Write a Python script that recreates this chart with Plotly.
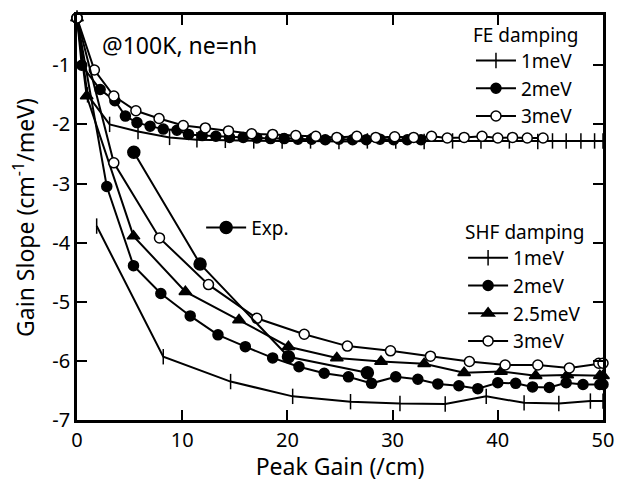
import plotly.graph_objects as go

# ---- data ----
fe1_x = [0, 1.0, 3.1, 5.8, 8.8, 11.4, 14.1, 16.8, 19.5, 22.2, 24.9, 27.6, 30.3, 33.0, 35.7, 38.4, 41.1, 43.8, 45.2, 46.5, 47.9, 49.2, 50]
fe1_y = [-0.2, -1.5, -2.0, -2.12, -2.22, -2.26, -2.27, -2.28, -2.28, -2.28, -2.29, -2.28, -2.28, -2.29, -2.28, -2.28, -2.28, -2.29, -2.28, -2.28, -2.28, -2.28, -2.28]

fe2_x = [0, 0.45, 2.2, 3.6, 4.6, 5.7, 6.95, 8.2, 9.5, 10.6, 11.9, 13.2, 14.5, 15.8, 17.1, 18.4, 19.7, 21.0, 22.3, 23.6, 24.9, 26.2, 27.5, 28.8, 30.1, 31.4, 32.7]
fe2_y = [-0.2, -1.0, -1.41, -1.6, -1.86, -1.97, -2.03, -2.08, -2.1, -2.17, -2.19, -2.2, -2.22, -2.22, -2.23, -2.24, -2.24, -2.25, -2.25, -2.26, -2.25, -2.26, -2.26, -2.25, -2.26, -2.26, -2.26]

fe3_x = [0, 1.65, 3.5, 5.6, 7.8, 10.1, 12.2, 14.4, 16.6, 18.6, 20.8, 22.7, 24.7, 26.6, 28.4, 30.2, 32.0, 33.7, 35.2, 36.8, 38.5, 40.0, 41.4, 42.8, 44.3]
fe3_y = [-0.2, -1.08, -1.52, -1.77, -1.9, -2.02, -2.06, -2.11, -2.16, -2.17, -2.19, -2.2, -2.22, -2.2, -2.22, -2.21, -2.22, -2.2, -2.23, -2.22, -2.2, -2.23, -2.22, -2.23, -2.23]

shf1_x = [1.87, 8.2, 14.6, 20.5, 26.0, 30.7, 35.0, 38.9, 42.5, 45.8, 48.8, 50]
shf1_y = [-3.72, -5.93, -6.35, -6.6, -6.69, -6.72, -6.73, -6.6, -6.71, -6.72, -6.68, -6.68]

shf2_x = [0, 2.83, 5.37, 7.97, 10.76, 13.4, 16.0, 18.6, 21.1, 23.5, 25.8, 28.0, 30.3, 32.4, 34.3, 36.3, 38.1, 40.0, 41.7, 43.3, 44.9, 46.5, 48.1, 49.7, 50]
shf2_y = [-0.2, -3.05, -4.39, -4.86, -5.24, -5.56, -5.76, -5.95, -6.1, -6.21, -6.27, -6.38, -6.27, -6.31, -6.39, -6.42, -6.47, -6.37, -6.38, -6.44, -6.45, -6.37, -6.4, -6.4, -6.4]

shf25_x = [0, 0.92, 5.37, 10.3, 15.4, 20.1, 24.7, 28.9, 33.0, 36.8, 40.3, 43.6, 46.6, 49.7, 50]
shf25_y = [-0.2, -1.52, -3.89, -4.83, -5.31, -5.76, -5.95, -6.01, -6.05, -6.2, -6.18, -6.25, -6.24, -6.25, -6.25]

shf3_x = [0, 3.5, 7.84, 12.5, 17.1, 21.6, 25.7, 29.8, 33.6, 37.3, 40.7, 43.8, 46.8, 49.6, 50]
shf3_y = [-0.2, -2.65, -3.92, -4.71, -5.28, -5.55, -5.75, -5.83, -5.92, -6.01, -6.07, -6.07, -6.12, -6.04, -6.04]

exp_x = [5.4, 11.7, 20.1, 27.6]
exp_y = [-2.47, -4.36, -5.93, -6.2]

x_ticks = [0, 10, 20, 30, 40, 50]
y_ticks = [-7, -6, -5, -4, -3, -2, -1]
y_ticktext = ["-7", "-6", "-5", "-4", "-3", "-2", "-1"]

FONT = "Noto Sans"

fig = go.Figure()

def add(x, y, name, symbol, fill, legend, size=10):
    fig.add_trace(go.Scatter(
        x=x, y=y, name=name, mode="lines+markers", legend=legend,
        line=dict(color="black", width=2),
        marker=dict(symbol=symbol, size=size, color=fill,
                    line=dict(color="black", width=1.5)),
        cliponaxis=False,
    ))

add(fe1_x, fe1_y, "1meV", "line-ns", "black", "legend", 11)
add(fe2_x, fe2_y, "2meV", "circle", "black", "legend")
add(fe3_x, fe3_y, "3meV", "circle", "white", "legend")
add(shf1_x, shf1_y, "1meV", "line-ns", "black", "legend2", 11)
add(shf2_x, shf2_y, "2meV", "circle", "black", "legend2")
add(shf25_x, shf25_y, "2.5meV", "triangle-up", "black", "legend2", 11)
add(shf3_x, shf3_y, "3meV", "circle", "white", "legend2")
add(exp_x, exp_y, "Exp.", "circle", "black", "legend3", 12)

axis_common = dict(
    showline=True, linecolor="black", linewidth=2.5, mirror="ticks",
    ticks="inside", ticklen=10, tickwidth=2, tickcolor="black",
    showgrid=False, zeroline=False, automargin=False,
    tickfont=dict(family=FONT, size=20, color="black"),
)

fig.update_xaxes(range=[0, 50], tickvals=x_ticks, **axis_common,
                 title=dict(text="Peak Gain (/cm)", font=dict(family=FONT, size=23, color="black"), standoff=4))
fig.update_yaxes(range=[-7, -0.15], tickvals=y_ticks, ticktext=y_ticktext, **axis_common,
                 title=dict(text="Gain Slope (cm<sup>-1</sup>/meV)", font=dict(family=FONT, size=23, color="black"), standoff=12))

leg_common = dict(bgcolor="rgba(0,0,0,0)", font=dict(family=FONT, size=19, color="black"),
                  tracegroupgap=0, itemwidth=40, xanchor="left", yanchor="top")

fig.update_layout(
    width=617, height=482,
    margin=dict(l=77, r=14, t=15, b=62),
    paper_bgcolor="white", plot_bgcolor="white",
    legend=dict(x=0.749, y=0.995, title=dict(text="FE damping", font=dict(family=FONT, size=19, color="black")), **leg_common),
    legend2=dict(x=0.734, y=0.508, title=dict(text="SHF damping", font=dict(family=FONT, size=19, color="black")), **leg_common),
    legend3=dict(x=0.236, y=0.522, **leg_common),
    annotations=[dict(text="@100K, ne=nh", xref="paper", yref="paper", x=0.043, y=0.926,
                      xanchor="left", yanchor="middle", showarrow=False,
                      font=dict(family=FONT, size=23, color="black"))],
)

fig.write_html("out.html")
